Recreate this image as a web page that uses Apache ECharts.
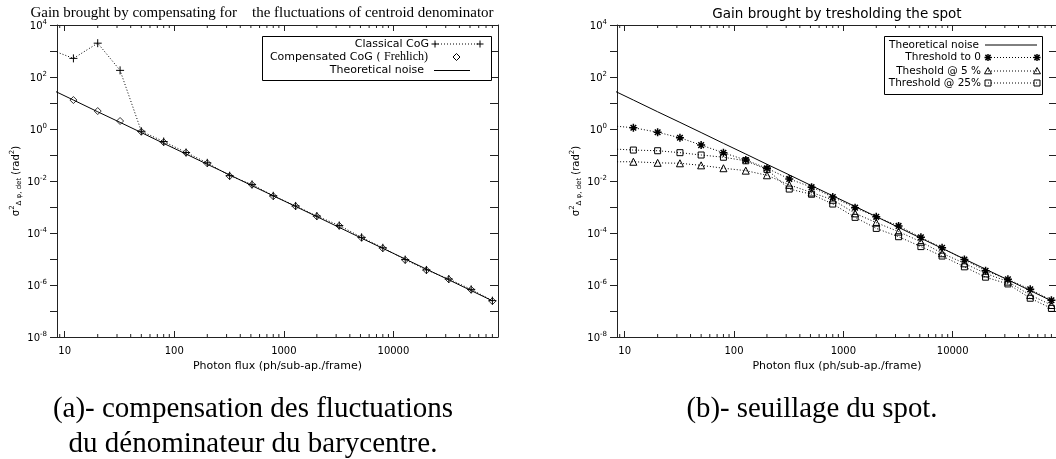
<!DOCTYPE html>
<html><head><meta charset="utf-8">
<script src="https://cdn.jsdelivr.net/npm/echarts@6/dist/echarts.min.js"></script>
<style>html,body{margin:0;padding:0;background:#fff}#c{width:1056px;height:459px}</style>
</head><body><div id="c"></div>
<script>
// ---------- data ----------
const photonFlux = [8, 12, 20, 32, 50, 80, 128, 200, 320, 512, 800, 1280, 2000, 3200, 5120, 8000, 12800, 20000, 32000, 51200, 80000];
// panel (a)
const classicalCoG   = [1000, 520, 2000, 180, 0.82, 0.33, 0.125, 0.05, 0.016, 0.0074, 0.0027, 0.0011, 4.5e-4, 1.95e-4, 6.8e-5, 2.7e-5, 9.5e-6, 3.8e-6, 1.7e-6, 6.8e-7, 2.5e-7];
const compensatedCoG = [30, 13, 4.9, 2.03, 0.79, 0.31, 0.123, 0.048, 0.0155, 0.0072, 0.0026, 0.00107, 4.4e-4, 1.9e-4, 6.6e-5, 2.6e-5, 9.2e-6, 3.7e-6, 1.66e-6, 6.6e-7, 2.4e-7];
const theoreticalNoise = [29.5, 13.0, 4.6, 1.8, 0.73, 0.28, 0.109, 0.044, 0.0172, 0.0066, 0.0027, 0.00105, 4.26e-4, 1.64e-4, 6.3e-5, 2.57e-5, 1.0e-5, 4.07e-6, 1.58e-6, 6.1e-7, 2.46e-7];
// panel (b)
const thresholdZero = [1.3, 1.12, 0.75, 0.46, 0.24, 0.122, 0.064, 0.031, 0.012, 0.0058, 0.0024, 9.4e-4, 4.2e-4, 1.87e-4, 6.8e-5, 2.7e-5, 9.5e-6, 3.5e-6, 1.66e-6, 6.8e-7, 2.6e-7];
const threshold5    = [0.055, 0.055, 0.05, 0.048, 0.04, 0.031, 0.025, 0.0166, 0.0071, 0.0036, 0.0019, 5.7e-4, 2.5e-4, 1.13e-4, 4.6e-5, 1.66e-5, 6.8e-6, 2.8e-6, 1.35e-6, 4.1e-7, 1.7e-7];
const threshold25   = [0.17, 0.155, 0.146, 0.123, 0.1, 0.082, 0.06, 0.028, 0.0049, 0.0031, 0.0013, 4.0e-4, 1.5e-4, 7.2e-5, 3.0e-5, 1.3e-5, 5.0e-6, 2.0e-6, 1.1e-6, 3.1e-7, 1.26e-7];
// axes / tick labels
const xRange = [8.5, 90000];
const yRange = [1e-8, 1e4];
const xLabelValues = [10, 100, 1000, 10000];
const xMinorTicks = [9, 20, 30, 40, 50, 60, 70, 80, 90, 200, 300, 400, 500, 600, 700, 800, 900,
  2000, 3000, 4000, 5000, 6000, 7000, 8000, 9000, 20000, 30000, 40000, 50000, 60000, 70000, 80000];
const yLabelExponents = [4, 2, 0, -2, -4, -6, -8];
// texts
const titleA = 'Gain brought by compensating for    the fluctuations of centroid denominator';
const titleB = 'Gain brought by tresholding the spot';
const captionA1 = '(a)- compensation des fluctuations';
const captionA2 = 'du dénominateur du barycentre.';
const captionB = '(b)- seuillage du spot.';
const xName = 'Photon flux (ph/sub-ap./frame)';
const legendA = ['Classical CoG', 'Compensated CoG ( Frehlich)', 'Theoretical noise'];
const legendB = ['Theoretical noise', 'Threshold to 0', 'Theshold @ 5 %', 'Threshold @ 25%'];

// ---------- chart ----------
const AX = '#222';
const SANS = '"DejaVu Sans", sans-serif';
const SERIF = '"Liberation Serif", "DejaVu Serif", serif';
const pairs = ys => photonFlux.map((x, i) => [x, ys[i]]);

function xLabel(v) {
  return xLabelValues.some(t => Math.abs(t - v) / t < 1e-6) ? String(Math.round(v)) : '';
}
function yLabel(v) {
  const l = Math.log10(v), e = Math.round(l);
  if (Math.abs(l - e) > 1e-6 || !yLabelExponents.includes(e)) return '';
  return '{b|10}{s|' + (e < 0 ? '-' + (-e) : e) + '}';
}
const labelRich = {
  b: {fontFamily: SANS, fontSize: 10, color: '#000', verticalAlign: 'bottom', lineHeight: 12},
  s: {fontFamily: SANS, fontSize: 7, color: '#000', verticalAlign: 'top', lineHeight: 12}
};

function xAxesFor(gi) {
  const common = {
    type: 'log', gridIndex: gi, min: xRange[0], max: xRange[1],
    axisLine: {show: true, lineStyle: {color: AX, width: 1}},
    axisTick: {show: true, inside: true, length: 6, lineStyle: {color: AX}},
    splitLine: {show: false}
  };
  return [
    Object.assign({}, common, {
      position: 'bottom',
      axisLabel: {show: true, formatter: xLabel, showMinLabel: false, showMaxLabel: false, margin: 9,
        fontFamily: SANS, fontSize: 10, color: '#000'},
      name: xName, nameLocation: 'middle', nameGap: 22,
      nameTextStyle: {fontFamily: SANS, fontSize: 11, color: '#000'}
    }),
    Object.assign({}, common, {position: 'top', axisLabel: {show: false}})
  ];
}
function yAxesFor(gi) {
  const common = {
    type: 'log', gridIndex: gi, min: yRange[0], max: yRange[1], interval: 1,
    axisLine: {show: true, lineStyle: {color: AX, width: 1}},
    splitLine: {show: false}
  };
  return [
    Object.assign({}, common, {
      position: 'left',
      axisTick: {show: true, inside: false, length: 7, lineStyle: {color: AX}},
      axisLabel: {show: true, formatter: yLabel, rich: labelRich, margin: 10, color: '#000'},
      name: '{a|σ}{p|2}{q|Δ φ, det}{a| (rad}{p|2}{a|)}', nameLocation: 'middle', nameGap: 34, nameRotate: 90,
      nameTextStyle: {rich: {
        a: {fontFamily: SANS, fontSize: 10, color: '#000', lineHeight: 14, verticalAlign: 'middle'},
        p: {fontFamily: SANS, fontSize: 7, color: '#000', lineHeight: 14, verticalAlign: 'top'},
        q: {fontFamily: SANS, fontSize: 7, color: '#000', lineHeight: 14, verticalAlign: 'bottom'}
      }}
    }),
    Object.assign({}, common, {
      position: 'right',
      axisTick: {show: true, inside: true, length: 8, lineStyle: {color: AX}},
      axisLabel: {show: false}
    })
  ];
}

// minor x ticks (bottom and top), placed through the axis scale (custom series)
const MINOR_LEN = 3;
function minorTicks(xi, yi) {
  return {
    type: 'custom', coordinateSystem: 'cartesian2d', xAxisIndex: xi, yAxisIndex: yi, silent: true, clip: false, z: 5,
    data: xMinorTicks.map(v => [v, yRange[0]]),
    renderItem: function (params, api) {
      const v = api.value(0);
      const pb = api.coord([v, yRange[0]]);
      const pt = api.coord([v, yRange[1]]);
      const st = {stroke: AX, lineWidth: 1};
      return {type: 'group', children: [
        {type: 'line', shape: {x1: pb[0], y1: pb[1], x2: pb[0], y2: pb[1] - MINOR_LEN}, style: st},
        {type: 'line', shape: {x1: pt[0], y1: pt[1], x2: pt[0], y2: pt[1] + MINOR_LEN}, style: st}
      ]};
    }
  };
}

const SYM = {
  cross: 'path://M0,5L10,5M5,0L5,10',
  star: 'path://M5,0L5,10M0,5L10,5M1.5,1.5L8.5,8.5M8.5,1.5L1.5,8.5'
};
const hollow = {color: 'rgba(0,0,0,0)', borderColor: '#000', borderWidth: 1};

// x axes: grid0 -> 0,1 ; grid1 -> 2,3 ; y axes: grid0 -> 0,1 ; grid1 -> 2,3
function dotted(name, data, xi, yi, symbol, size, bw) {
  return {
    type: 'line', name, data: pairs(data), xAxisIndex: xi, yAxisIndex: yi,
    symbol, symbolSize: size, showSymbol: true, clip: true,
    lineStyle: {color: '#000', width: 1, type: [1, 2]},
    itemStyle: {color: 'rgba(0,0,0,0)', borderColor: '#000', borderWidth: bw || 1}
  };
}
function solid(name, data, xi, yi) {
  return {type: 'line', name, data: pairs(data), xAxisIndex: xi, yAxisIndex: yi,
    symbol: 'none', clip: true, lineStyle: {color: '#000', width: 1}, itemStyle: {color: '#000'}};
}

// ---- legend glyphs (decoration only) ----
const gst = w => ({stroke: '#000', lineWidth: w || 1, fill: 'none'});
function glyph(kind, cx, cy) {
  const s = 3.5;
  if (kind === 'cross') return [
    {type: 'line', shape: {x1: cx - s, y1: cy, x2: cx + s, y2: cy}, style: gst(1)},
    {type: 'line', shape: {x1: cx, y1: cy - s, x2: cx, y2: cy + s}, style: gst(1)}];
  if (kind === 'star') { const d = 2.6; return [
    {type: 'line', shape: {x1: cx - s, y1: cy, x2: cx + s, y2: cy}, style: gst(1.5)},
    {type: 'line', shape: {x1: cx, y1: cy - s, x2: cx, y2: cy + s}, style: gst(1.5)},
    {type: 'line', shape: {x1: cx - d, y1: cy - d, x2: cx + d, y2: cy + d}, style: gst(1.5)},
    {type: 'line', shape: {x1: cx + d, y1: cy - d, x2: cx - d, y2: cy + d}, style: gst(1.5)}]; }
  if (kind === 'diamond') return [{type: 'polygon', shape: {points: [[cx, cy - s], [cx + s, cy], [cx, cy + s], [cx - s, cy]]}, style: gst(1)}];
  if (kind === 'triangle') return [{type: 'polygon', shape: {points: [[cx, cy - s], [cx + s, cy + s * 0.8], [cx - s, cy + s * 0.8]]}, style: gst(1)}];
  if (kind === 'square') return [{type: 'rect', shape: {x: cx - 3, y: cy - 3, width: 6, height: 6}, style: gst(1)}];
  return [];
}
function sampleLine(x1, x2, y, dashed) {
  return {type: 'line', shape: {x1, y1: y, x2, y2: y}, style: {stroke: '#000', lineWidth: 1, lineDash: dashed ? [1, 2] : null}};
}
function txt(t, x, y, font, align, rich) {
  const st = {text: t, font, fill: '#000', align: align || 'center', textAlign: align || 'center',
    verticalAlign: 'middle', textVerticalAlign: 'middle'};
  if (rich) st.rich = rich;
  return {type: 'text', x, y, style: st};
}

const LFA = '11px ' + SANS;
const LFB = '10.5px ' + SANS;
const graphics = [
  // titles
  txt(titleA, 262, 13, '15px ' + SERIF),
  txt(titleB, 837, 14, '13.5px ' + SANS),
  // captions
  txt(captionA1, 253, 409, '29px ' + SERIF),
  txt(captionA2, 253, 444, '29px ' + SERIF),
  txt(captionB, 812, 409, '28.8px ' + SERIF),
  // legend (a)
  {type: 'rect', shape: {x: 262.5, y: 36.5, width: 229, height: 44}, style: {stroke: '#000', lineWidth: 1, fill: '#fff'}, z: 90},
  txt(legendA[0], 429, 44, LFA, 'right'),
  txt('{s|Compensated CoG ( }{r|Frehlich)}', 428, 57, LFA, 'right', {
    s: {fontFamily: SANS, fontSize: 11, color: '#000'}, r: {fontFamily: SERIF, fontSize: 12, color: '#000'}}),
  txt(legendA[2], 424, 70.5, LFA, 'right'),
  sampleLine(435, 480, 44, true),
  ...glyph('cross', 435, 44), ...glyph('cross', 480, 44),
  ...glyph('diamond', 456.5, 57),
  sampleLine(434, 470, 70.5, false),
  // legend (b)
  {type: 'rect', shape: {x: 884.5, y: 36.5, width: 158, height: 58}, style: {stroke: '#000', lineWidth: 1, fill: '#fff'}, z: 90},
  txt(legendB[0], 979, 45, LFB, 'right'),
  txt(legendB[1], 981, 57.5, LFB, 'right'),
  txt(legendB[2], 981, 71, LFB, 'right'),
  txt(legendB[3], 981, 83, LFB, 'right'),
  sampleLine(985, 1037, 45, false),
  sampleLine(988, 1037, 57.5, true),
  sampleLine(988, 1037, 71, true),
  sampleLine(988, 1037, 83, true),
  ...glyph('star', 988, 57.5), ...glyph('star', 1037, 57.5),
  ...glyph('triangle', 988, 71), ...glyph('triangle', 1037, 71),
  ...glyph('square', 988, 83), ...glyph('square', 1037, 83)
].map(g => (g.z == null ? Object.assign(g, {z: 100}) : g));

const option = {
  animation: false,
  backgroundColor: '#fff',
  grid: [
    {left: 57, top: 25, width: 441, height: 312, containLabel: false, outerBoundsMode: 'none'},
    {left: 617, top: 25, width: 440, height: 312, containLabel: false, outerBoundsMode: 'none'}
  ],
  xAxis: [...xAxesFor(0), ...xAxesFor(1)],
  yAxis: [...yAxesFor(0), ...yAxesFor(1)],
  series: [
    minorTicks(0, 0),
    minorTicks(2, 2),
    solid('Theoretical noise', theoreticalNoise, 0, 0),
    {type: 'scatter', name: 'Compensated CoG ( Frehlich)', data: pairs(compensatedCoG), xAxisIndex: 0, yAxisIndex: 0,
      symbol: 'diamond', symbolSize: 7, clip: true, itemStyle: hollow},
    dotted('Classical CoG', classicalCoG, 0, 0, SYM.cross, 8, 1),
    solid('Theoretical noise', theoreticalNoise, 2, 2),
    dotted('Threshold to 0', thresholdZero, 2, 2, SYM.star, 8, 1.5),
    dotted('Theshold @ 5 %', threshold5, 2, 2, 'triangle', 7, 1),
    dotted('Threshold @ 25%', threshold25, 2, 2, 'rect', 6, 1)
  ],
  graphic: graphics
};
const chart = echarts.init(document.getElementById('c'));
chart.setOption(option);
</script>
</body></html>
